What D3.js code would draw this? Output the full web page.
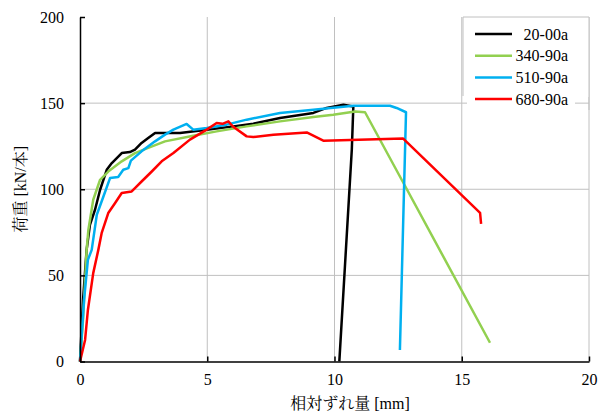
<!DOCTYPE html>
<html>
<head>
<meta charset="UTF-8">
<title>荷重-相対ずれ量</title>
<style>
  body { margin: 0; background: #fff; }
  svg { display: block; }
  svg text { font-family: 'Liberation Serif', 'Noto Serif CJK JP', 'Noto Sans CJK JP', serif; fill: #000; }
</style>
</head>
<body>
<svg id="chart"></svg>
<script src="https://cdn.jsdelivr.net/npm/d3@7"></script>
<script>
// series names and colours
var seriesNames = ["20-00a", "340-90a", "510-90a", "680-90a"];
var seriesColors = ["#000000", "#92D050", "#00B0F0", "#FF0000"];

// 20-00a
var disp20 = [0, 0.12, 0.26, 0.39, 0.59, 0.79, 1.05, 1.25, 1.64, 1.96, 2.16, 2.42, 2.68, 2.95, 3.34, 3.93, 4.98, 6.02, 6.81, 7.86, 9.17, 9.69, 10.35, 10.74, 10.68, 10.19];
var load20 = [0, 35.8, 64.8, 79.4, 88.1, 99.7, 111.3, 115.2, 121.0, 121.6, 123.0, 126.9, 129.8, 132.7, 132.7, 132.7, 134.6, 136.5, 138.1, 141.4, 144.3, 147.2, 149.1, 148.1, 123.0, 0.1];

// 340-90a
var disp340 = [0, 0.12, 0.26, 0.33, 0.52, 0.79, 1.11, 1.64, 2.16, 2.68, 3.34, 4.45, 5.37, 6.55, 7.86, 9.17, 9.95, 10.81, 11.2, 12.64, 16.11];
var load340 = [0, 24.1, 64.8, 76.5, 93.9, 105.5, 110.3, 116.2, 121.0, 124.0, 127.8, 131.1, 133.6, 136.5, 139.4, 142.0, 143.3, 145.2, 144.7, 105.5, 10.9];

// 510-90a
var disp510 = [0, 0.16, 0.31, 0.46, 0.66, 0.92, 1.18, 1.5, 1.7, 1.9, 2.0, 2.42, 2.95, 3.34, 3.67, 4.19, 4.45, 4.98, 5.76, 6.55, 7.86, 9.17, 10.74, 12.18, 12.44, 12.81, 12.57];
var load510 = [0, 35.8, 59.0, 64.8, 85.2, 95.8, 106.5, 107.1, 111.3, 112.3, 116.6, 122.0, 127.8, 131.7, 134.6, 137.9, 134.6, 135.6, 137.5, 140.4, 144.3, 146.2, 148.5, 148.5, 147.2, 144.7, 6.7];

// 680-90a
var disp680 = [0, 0.2, 0.31, 0.52, 0.72, 0.85, 1.11, 1.38, 1.64, 2.03, 2.16, 2.42, 2.82, 3.21, 3.67, 4.32, 4.98, 5.37, 5.6, 5.83, 6.02, 6.55, 6.81, 7.6, 8.91, 9.56, 12.7, 15.72, 15.76];
var load680 = [0, 12.5, 29.9, 51.3, 64.8, 74.5, 86.2, 92.0, 97.8, 98.7, 100.7, 104.5, 110.3, 116.2, 121.0, 128.8, 134.6, 138.5, 138.0, 139.4, 136.3, 130.7, 130.3, 131.7, 133.0, 128.2, 129.4, 86.3, 79.9];

var xTicks = [0, 5, 10, 15, 20];
var yTicks = [0, 50, 100, 150, 200];

var allDisp = [disp20, disp340, disp510, disp680];
var allLoad = [load20, load340, load510, load680];

var width = 602, height = 412;
var svg = d3.select("#chart").attr("width", width).attr("height", height);

var x = d3.scaleLinear().domain([0, 20]).range([80, 589]);
var y = d3.scaleLinear().domain([0, 200]).range([361.5, 17]);

// gridlines
var grid = svg.append("g").attr("stroke", "#c0c0c0").attr("stroke-width", 1);
grid.selectAll(".gx").data(xTicks.filter(function (d) { return d > 0; }))
  .enter().append("line")
  .attr("x1", function (d) { return x(d); }).attr("x2", function (d) { return x(d); })
  .attr("y1", y(0)).attr("y2", y(200));
grid.selectAll(".gy").data([50, 100, 150])
  .enter().append("line")
  .attr("x1", x(0)).attr("x2", x(20))
  .attr("y1", function (d) { return y(d); }).attr("y2", function (d) { return y(d); });

// series
var line = d3.line().x(function (d) { return x(d[0]); }).y(function (d) { return y(d[1]); });
seriesNames.forEach(function (name, i) {
  var pts = d3.zip(allDisp[i], allLoad[i]);
  svg.append("path")
    .datum(pts)
    .attr("d", line)
    .attr("fill", "none")
    .attr("stroke", seriesColors[i])
    .attr("stroke-width", 2.5)
    .attr("stroke-linejoin", "round");
});

// axes
var xAxis = d3.axisBottom(x).tickValues(xTicks).tickSizeInner(-5).tickSizeOuter(0).tickPadding(12);
var yAxis = d3.axisLeft(y).tickValues(yTicks).tickSizeInner(-5).tickSizeOuter(0).tickPadding(16);

var gx = svg.append("g").attr("transform", "translate(0," + y(0) + ")").call(xAxis);
var gy = svg.append("g").attr("transform", "translate(" + x(0) + ",0)").call(yAxis);
[gx, gy].forEach(function (g) {
  g.attr("font-family", null).attr("font-size", 16);
  g.select(".domain").attr("stroke", "#000").attr("stroke-width", 1.5);
  g.selectAll(".tick line").attr("stroke", "#000").attr("stroke-width", 1.5);
});

// axis titles
svg.append("text")
  .attr("font-size", 16)
  .attr("x", 350).attr("y", 409)
  .attr("text-anchor", "middle")
  .text("相対ずれ量 [mm]");
svg.append("text")
  .attr("font-size", 16)
  .attr("transform", "translate(26," + ((y(0) + y(200)) / 2) + ") rotate(-90)")
  .attr("text-anchor", "middle")
  .text("荷重 [kN/本]");

// legend
var lg = svg.append("g");
lg.append("rect").attr("x", 463).attr("y", 17).attr("width", 126).attr("height", 80).attr("fill", "#fff");
lg.append("rect").attr("x", 467).attr("y", 90).attr("width", 108).attr("height", 20).attr("fill", "#fff");
lg.append("line").attr("x1", 463).attr("x2", 589).attr("y1", 17).attr("y2", 17).attr("stroke", "#c0c0c0");
lg.append("line").attr("x1", 463).attr("x2", 463).attr("y1", 17).attr("y2", 96).attr("stroke", "#c0c0c0");
lg.append("line").attr("x1", 589).attr("x2", 589).attr("y1", 17).attr("y2", 110).attr("stroke", "#c0c0c0");

var items = lg.selectAll(".item").data(seriesNames).enter().append("g")
  .attr("transform", function (d, i) { return "translate(0," + (34 + i * 21.7) + ")"; });
items.append("line")
  .attr("x1", 475).attr("x2", 512).attr("y1", 0).attr("y2", 0)
  .attr("stroke", function (d, i) { return seriesColors[i]; })
  .attr("stroke-width", 2.5);
items.append("text")
  .attr("font-size", 16)
  .attr("x", 568).attr("y", 0).attr("dy", "0.35em")
  .attr("text-anchor", "end")
  .text(function (d) { return d; });
</script>
</body>
</html>
